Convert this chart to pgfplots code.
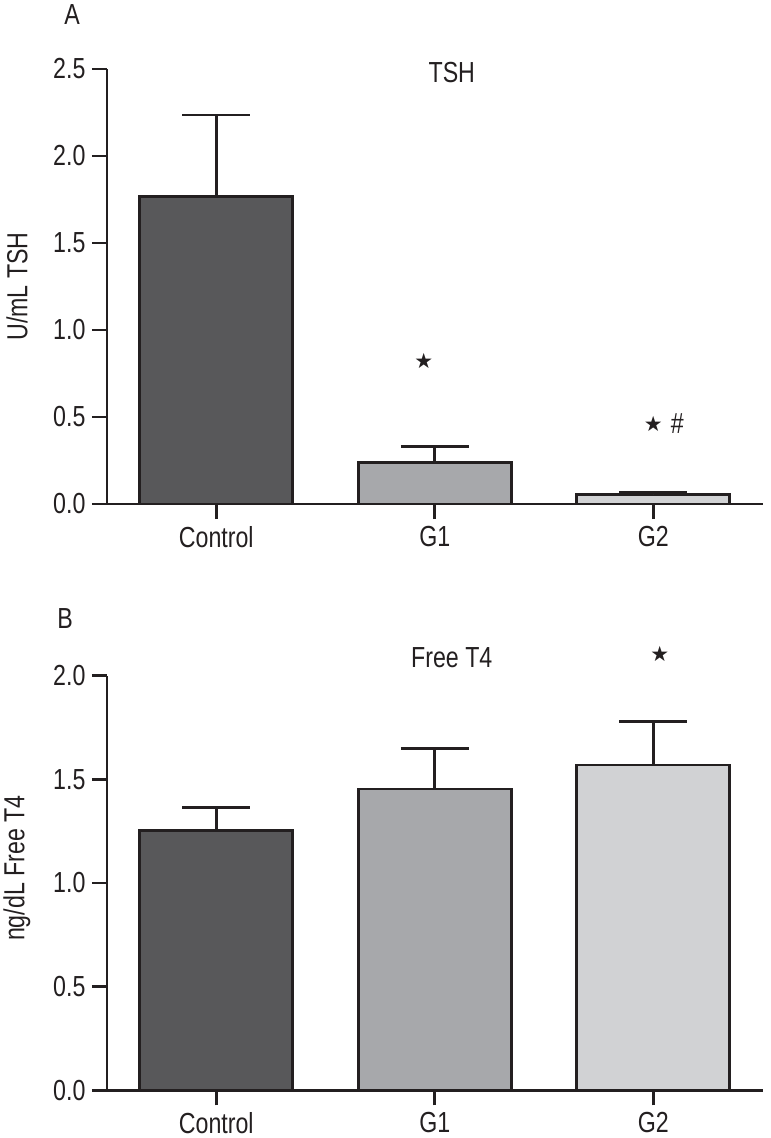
\documentclass[border=0pt]{standalone}
\usepackage{pgfplots}
\pgfplotsset{compat=1.18}
\usepackage{fontspec}
\setmainfont{Liberation Sans}[FakeStretch=0.8]
\newfontfamily\symfont{DejaVu Sans}
\definecolor{linec}{HTML}{231F20}
\definecolor{cctrl}{HTML}{58585A}
\definecolor{cgone}{HTML}{A7A8AB}
\definecolor{cgtwo}{HTML}{D1D2D4}
\pgfplotsset{
  panel/.style={
    scale only axis, width=655.5pt,
    xmin=-0.5, xmax=2.5,
    axis x line*=bottom, axis y line*=left,
    axis line style={line width=2.8pt, draw=linec, -},
    xtick={0,1,2}, xticklabels={Control,G1,G2},
    tick align=outside, major tick length=15pt,
    tick style={line width=2.8pt, draw=linec},
    every tick label/.append style={font=\fontsize{29pt}{34pt}\selectfont, text=linec},
    yticklabel style={xshift=-3pt, /pgf/number format/fixed, /pgf/number format/fixed zerofill, /pgf/number format/precision=1},
    xticklabel style={yshift=-6pt, inner ysep=1pt},
    /pgf/number format/assume math mode=true,
    clip=false,
  },
  bars/.style={ybar, bar width=0.7, bar shift=0pt, draw=linec, line width=2.8pt, fill=#1,
    error bars/.cd, y dir=plus, y explicit,
    error mark=|,
    error bar style={line width=2.8pt, draw=linec},
    error mark options={line width=2.8pt, draw=linec, mark size=34pt}},
}
\newcommand{\starm}{\textcolor{linec}{\fontsize{21pt}{24pt}\selectfont\symfont ★}}
\newcommand{\hashm}{\textcolor{linec}{\fontsize{29pt}{34pt}\selectfont\#}}
\begin{document}
\begin{tikzpicture}[x=1pt,y=1pt]
\useasboundingbox (-107pt,-634pt) rectangle (664pt,504pt);
% Panel A
\begin{axis}[panel, at={(0pt,0pt)}, anchor=south west, height=435pt,
  ymin=0, ymax=2.5, ytick={0,0.5,1,1.5,2,2.5}]
\addplot[bars=cctrl] coordinates {(0,1.766) +- (0,0.470)};
\addplot[bars=cgone] coordinates {(1,0.240) +- (0,0.092)};
\addplot[bars=cgtwo] coordinates {(2,0.056) +- (0,0.009)};
\addplot[only marks, mark=text, text mark={\starm}] coordinates {(0.95,0.82) (2.0,0.46)};
\addplot[only marks, mark=text, text mark={\hashm}] coordinates {(2.11,0.46)};
\node[font=\fontsize{29pt}{34pt}\selectfont, text=linec] at (rel axis cs:0.526,0.991) {TSH};
\node[font=\fontsize{29pt}{34pt}\selectfont, text=linec, xshift=-90pt, rotate=90] at (rel axis cs:0,0.5) {U/mL TSH};
\node[font=\fontsize{29pt}{34pt}\selectfont, text=linec, xshift=-35pt, yshift=54pt] at (rel axis cs:0,1) {A};
\end{axis}
% Panel B
\begin{axis}[panel, at={(0pt,-586.3pt)}, anchor=south west, height=414.6pt,
  ymin=0, ymax=2.0, ytick={0,0.5,1,1.5,2}]
\addplot[bars=cctrl] coordinates {(0,1.252) +- (0,0.111)};
\addplot[bars=cgone] coordinates {(1,1.453) +- (0,0.195)};
\addplot[bars=cgtwo] coordinates {(2,1.569) +- (0,0.212)};
\addplot[only marks, mark=text, text mark={\starm}] coordinates {(2.03,2.105)};
\node[font=\fontsize{29pt}{34pt}\selectfont, text=linec] at (rel axis cs:0.526,1.043) {Free T4};
\node[font=\fontsize{29pt}{34pt}\selectfont, text=linec, xshift=-90pt, rotate=90] at (rel axis cs:0,0.536) {ng/dL Free T4};
\node[font=\fontsize{29pt}{34pt}\selectfont, text=linec, xshift=-42pt, yshift=57pt] at (rel axis cs:0,1) {B};
\end{axis}
\end{tikzpicture}
\end{document}
